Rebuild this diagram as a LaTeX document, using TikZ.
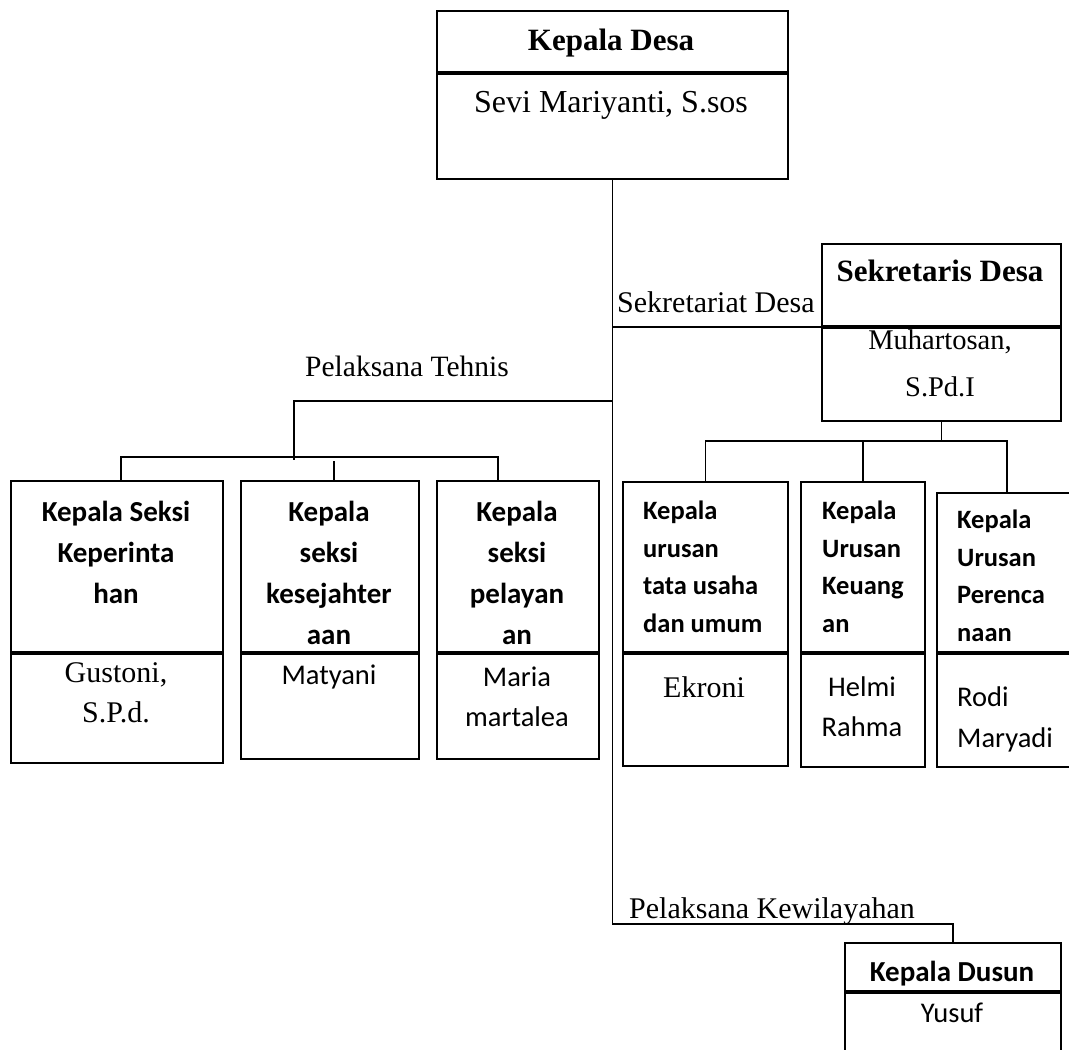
\documentclass[tikz,border=0pt]{standalone}
\usepackage{fontspec}
\newfontfamily\timesf{Liberation Serif}
\newfontfamily\calibri{Carlito}
\usetikzlibrary{positioning}

\begin{document}
\begin{tikzpicture}[
  x=1pt, y=-1pt,
  sect/.style={draw, line width=1.8pt, inner sep=0pt, anchor=north west},
  conn/.style={line width=1.8pt},
  txt/.style={inner sep=0pt},
  serif/.style={txt, font=\timesf\fontsize{30}{40}\selectfont},
  serifb/.style={txt, font=\timesf\bfseries\fontsize{31}{40}\selectfont},
  sans/.style={txt, font=\calibri\fontsize{28.5}{40}\selectfont},
  sansb/.style={txt, font=\calibri\bfseries\fontsize{29}{41}\selectfont},
  sansbs/.style={txt, font=\calibri\bfseries\fontsize{26.5}{37.5}\selectfont}
]
\clip (0,0) rectangle (1069,1050);

% kepala desa
\node[sect, minimum width=351pt, minimum height=61pt] (kdH) at (436,10) {};
\node[sect, minimum width=351pt, minimum height=105pt, below=0pt of kdH] (kdN) {};
\node[serifb, anchor=base] (tkd) at (611,50) {Kepala Desa};
\node[serif, font=\timesf\fontsize{32}{40}\selectfont, anchor=base] (nkd) at (611,112) {Sevi Mariyanti, S.sos};

% sekretaris desa
\node[sect, minimum width=239pt, minimum height=82pt] (sdH) at (821,243) {};
\node[sect, minimum width=239pt, minimum height=93pt, below=0pt of sdH] (sdN) {};
\node[serifb, anchor=base] (tsd) at (940,281) {Sekretaris Desa};
\node[serif, font=\timesf\fontsize{28.5}{47}\selectfont, align=center, anchor=north] (nsd) at (940,330) {Muhartosan,\\S.Pd.I};

% kepala seksi
\node[sect, minimum width=212pt, minimum height=171pt] (ks1H) at (10,480) {};
\node[sect, minimum width=212pt, minimum height=109pt, below=0pt of ks1H] (ks1N) {};
\node[sect, minimum width=178pt, minimum height=171pt] (ks2H) at (240,480) {};
\node[sect, minimum width=178pt, minimum height=105pt, below=0pt of ks2H] (ks2N) {};
\node[sect, minimum width=162pt, minimum height=171pt] (ks3H) at (436,480) {};
\node[sect, minimum width=162pt, minimum height=105pt, below=0pt of ks3H] (ks3N) {};

\node[sansb, align=center, anchor=north] (tks1) at (116,501) {Kepala Seksi\\Keperinta\\han};
\node[sansb, align=center, anchor=north] (tks2) at (329,501) {Kepala\\seksi\\kesejahter\\aan};
\node[sansb, align=center, anchor=north] (tks3) at (517,501) {Kepala\\seksi\\pelayan\\an};
\node[serif, align=center, anchor=north] (nks1) at (116,662) {Gustoni,\\S.P.d.};
\node[sans, anchor=base] (nks2) at (329,684) {Matyani};
\node[sans, align=center, anchor=north] (nks3) at (517,667) {Maria\\martalea};

% kepala urusan
\node[sect, minimum width=165pt, minimum height=170pt] (ku1H) at (622,481) {};
\node[sect, minimum width=165pt, minimum height=112pt, below=0pt of ku1H] (ku1N) {};
\node[sect, minimum width=124pt, minimum height=170pt] (ku2H) at (800,481) {};
\node[sect, minimum width=124pt, minimum height=113pt, below=0pt of ku2H] (ku2N) {};
\node[sect, minimum width=140pt, minimum height=159pt] (ku3H) at (936,492) {};
\node[sect, minimum width=140pt, minimum height=113pt, below=0pt of ku3H] (ku3N) {};

\node[sansbs, align=left, anchor=north west] (tku1) at (643,501) {Kepala\\urusan\\tata usaha\\dan umum};
\node[sansbs, align=left, anchor=north west] (tku2) at (822,501) {Kepala\\Urusan\\Keuang\\an};
\node[sansbs, align=left, anchor=north west] (tku3) at (957,510) {Kepala\\Urusan\\Perenca\\naan};
\node[serif, anchor=base] (nku1) at (704,697) {Ekroni};
\node[sans, align=center, anchor=north] (nku2) at (862,677) {Helmi\\Rahma};
\node[sans, font=\calibri\fontsize{28.5}{41}\selectfont, align=left, anchor=north west] (nku3) at (957,687) {Rodi\\Maryadi};

% kepala dusun
\node[sect, minimum width=216pt, minimum height=48pt] (kdsH) at (844,942) {};
\node[sect, minimum width=216pt, minimum height=70pt, below=0pt of kdsH] (kdsN) {};
\node[sansb, anchor=base] (tkds) at (952,981) {Kepala Dusun};
\node[sans, anchor=base] (nkds) at (952,1022) {Yusuf};

% garis
\coordinate (yt) at (0,401);
\coordinate (yu) at (0,441);
\coordinate (yw) at (0,924);
\coordinate (sek) at (kdN.south |- sdH.south west);
\coordinate (tek) at (kdN.south |- yt);
\coordinate (wil) at (kdN.south |- yw);
\coordinate (tb) at (294,460);
\coordinate (b1) at (121,457);
\coordinate (b2) at (334,461);
\coordinate (b3) at (498,457);

\draw[conn] (kdN.south) -- (wil) -| (kdsH.north);
\draw[conn] (sek) -- (sdH.south west);
\draw[conn] (tek) -| (tb);
\draw[conn] (b1 |- ks1H.north) -- (b1) -- (b3) -- (b3 |- ks3H.north);
\draw[conn] (b2) -- (b2 |- ks2H.north);
\draw[conn] (sdN.south) -- (sdN.south |- yu);
\draw[conn] (ku1H.north) |- (ku3H.north |- yu) -- (ku3H.north);
\draw[conn] (ku2H.north) -- (ku2H.north |- yu);

\node[serif, anchor=base west] (lsek) at (617,312) {Sekretariat Desa};
\node[serif, font=\timesf\fontsize{29.5}{40}\selectfont, anchor=base west] (ltek) at (305,376) {Pelaksana Tehnis};
\node[serif, anchor=base west] (lwil) at (629,918) {Pelaksana Kewilayahan};
\end{tikzpicture}
\end{document}
